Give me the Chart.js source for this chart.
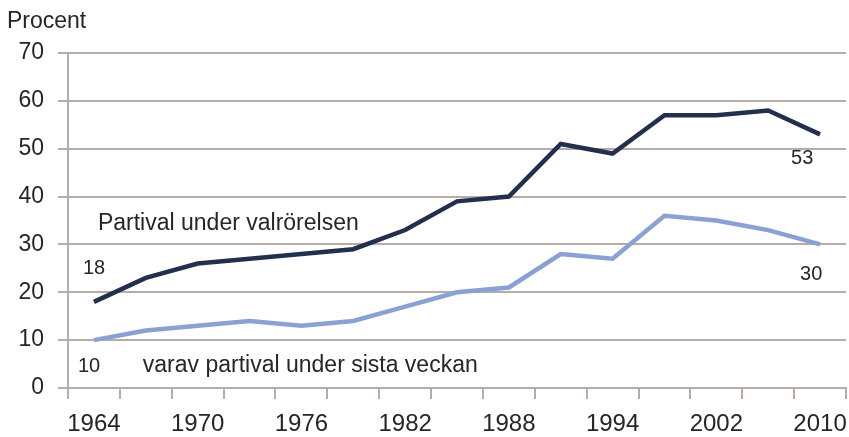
<!DOCTYPE html>
<html>
<head>
<meta charset="utf-8">
<script src="https://cdn.jsdelivr.net/npm/chart.js@4/dist/chart.umd.min.js"></script>
<style>
  body { margin: 0; background: #fff; }
  #wrap { width: 849px; height: 437px; }
</style>
</head>
<body>
<div id="wrap"><canvas id="c" width="849" height="437"></canvas></div>
<script>
// election years (category axis), only every other one gets a label
const years = ["1964", "1968", "1970", "1973", "1976", "1979", "1982", "1985",
               "1988", "1991", "1994", "1998", "2002", "2006", "2010"];
// share of voters who changed party during the campaign
const partival = [18, 23, 26, 27, 28, 29, 33, 39, 40, 51, 49, 57, 57, 58, 53];
// of which changed during the last week
const sistaVeckan = [10, 12, 13, 14, 13, 14, 17, 20, 21, 28, 27, 36, 35, 33, 30];
const yTicks = [0, 10, 20, 30, 40, 50, 60, 70];

const gridColor = "#b8aca8";
const textColor = "#262626";
const font = "'Liberation Sans', Arial, sans-serif";

// text notes anchored on the scales: [text, category index, value, dx, size]
const notes = [
  ["Partival under valrörelsen", 0, 33.1, 4, 23],
  ["18", 0, 23.8, -11, 20],
  ["10", 0, 3.3, -16, 20],
  ["varav partival under sista veckan", 1, 3.3, -3, 23],
  ["53", 14, 46.8, -29, 20],
  ["30", 14, 22.5, -20, 20]
];

const notesPlugin = {
  id: "notes",
  afterDraw(chart) {
    const { ctx, scales: { x, y } } = chart;
    ctx.save();
    ctx.fillStyle = textColor;
    ctx.textBaseline = "alphabetic";
    ctx.textAlign = "left";
    ctx.font = "23px " + font;
    ctx.fillText("Procent", 7, chart.chartArea.top - 25);
    notes.forEach(([t, i, v, dx, size]) => {
      ctx.font = size + "px " + font;
      ctx.fillText(t, x.getPixelForValue(i) + dx, y.getPixelForValue(v));
    });
    ctx.restore();
  }
};

new Chart(document.getElementById("c"), {
  type: "line",
  data: {
    labels: years,
    datasets: [
      {
        label: "Partival under valrörelsen",
        data: partival,
        borderColor: "#22304e",
        borderWidth: 4.5,
        pointRadius: 0,
        tension: 0
      },
      {
        label: "varav partival under sista veckan",
        data: sistaVeckan,
        borderColor: "#8aa1d4",
        borderWidth: 4.5,
        pointRadius: 0,
        tension: 0
      }
    ]
  },
  options: {
    responsive: false,
    animation: false,
    devicePixelRatio: 1,
    layout: { padding: { top: 53, right: 3, left: 0, bottom: 0 } },
    plugins: {
      legend: { display: false },
      tooltip: { enabled: false }
    },
    scales: {
      x: {
        type: "category",
        offset: true,
        afterFit: (s) => {
          s.height = 49;
          s.paddingLeft = 0;
          s.paddingRight = 0;
        },
        grid: {
          offset: true,
          drawOnChartArea: false,
          drawTicks: true,
          tickLength: 11,
          color: gridColor,
          lineWidth: 2
        },
        border: { display: true, color: gridColor, width: 2 },
        ticks: {
          autoSkip: false,
          maxRotation: 0,
          padding: 11,
          color: textColor,
          font: { family: font, size: 24 },
          callback: (v, i) => (i % 2 === 0 ? years[i] : "")
        }
      },
      y: {
        min: 0,
        max: 70,
        afterFit: (s) => { s.width = 68; },
        afterBuildTicks: (s) => { s.ticks = yTicks.map((v) => ({ value: v })); },
        grid: {
          color: gridColor,
          lineWidth: 2,
          tickLength: 10
        },
        border: { display: true, color: gridColor, width: 2 },
        ticks: {
          padding: 14,
          color: textColor,
          font: { family: font, size: 23 }
        }
      }
    }
  },
  plugins: [notesPlugin]
});
</script>
</body>
</html>
